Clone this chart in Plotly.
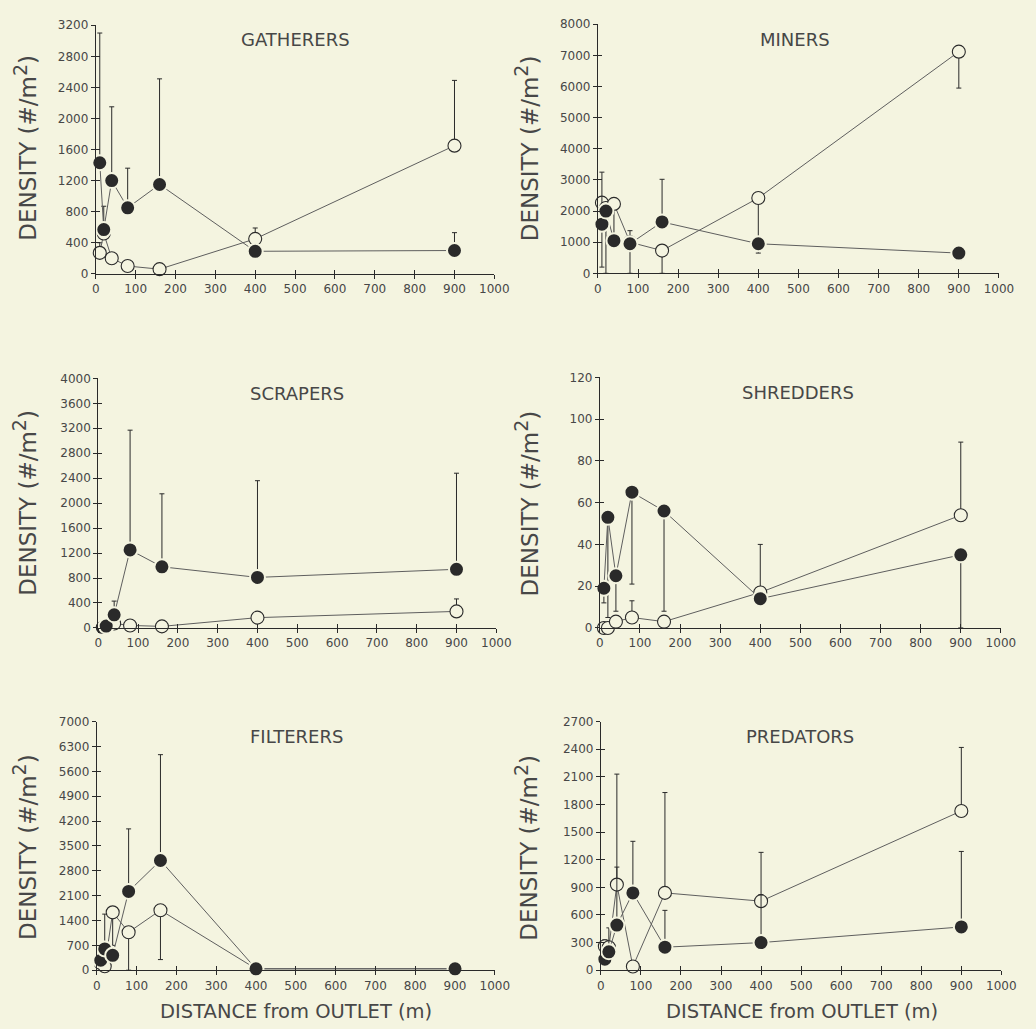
import plotly.graph_objects as go

# Sampling sites: distance downstream of the lake outlet (m)
SITES = [10, 20, 40, 80, 160, 400, 900]

# Mean densities (#/m2); filled = first survey, open = second survey.
# *_hi / *_lo give the top / bottom of each error bar (None = no bar).
gath_fill = [1430, 570, 1200, 850, 1150, 290, 300]
gath_fill_hi = [3100, 870, 2150, 1360, 2510, None, 530]
gath_fill_lo = [None, None, None, None, None, None, None]
gath_open = [270, 520, 200, 100, 60, 450, 1650]
gath_open_hi = [400, None, None, None, None, 590, 2490]
gath_open_lo = [None, None, None, None, None, None, None]

min_fill = [1580, 2000, 1050, 950, 1650, 950, 650]
min_fill_hi = [3250, None, None, None, 3020, None, None]
min_fill_lo = [200, 0, None, 0, None, 650, None]
min_open = [2270, 2100, 2230, 1000, 730, 2420, 7120]
min_open_hi = [None, None, None, 1370, None, None, None]
min_open_lo = [None, None, 1050, None, 0, 950, 5950]

scr_fill = [10, 30, 210, 1250, 980, 810, 940]
scr_fill_hi = [None, None, 430, 3170, 2150, 2360, 2480]
scr_fill_lo = [None, None, None, None, None, None, None]
scr_open = [10, 20, 70, 40, 25, 165, 265]
scr_open_hi = [None, None, None, None, None, None, 465]
scr_open_lo = [None, None, None, None, None, None, None]

shr_fill = [19, 53, 25, 65, 56, 14, 35]
shr_fill_hi = [None, None, None, None, None, None, None]
shr_fill_lo = [12, 5, 8, 21, 8, None, 0]
shr_open = [0, 0, 3, 5, 3, 17, 54]
shr_open_hi = [None, None, None, 13, None, 40, 89]
shr_open_lo = [None, None, None, None, None, None, None]

fil_fill = [280, 600, 420, 2220, 3090, 40, 40]
fil_fill_hi = [None, 1580, None, 3980, 6070, None, None]
fil_fill_lo = [None, None, None, None, None, None, None]
fil_open = [200, 110, 1630, 1070, 1690, 40, 40]
fil_open_hi = [None, None, None, None, None, None, None]
fil_open_lo = [None, None, 700, 0, 300, None, None]

pred_fill = [120, 200, 490, 840, 250, 300, 470]
pred_fill_hi = [None, 460, 1120, 1400, 650, 820, 1290]
pred_fill_lo = [None, None, None, None, None, None, None]
pred_open = [260, 250, 930, 40, 840, 750, 1730]
pred_open_hi = [330, None, 2130, None, 1930, 1280, 2420]
pred_open_lo = [None, None, None, None, None, None, None]

TITLES = ["GATHERERS", "MINERS", "SCRAPERS", "SHREDDERS", "FILTERERS", "PREDATORS"]
Y_MAX = [3200, 8000, 4000, 120, 7000, 2700]
Y_STEP = [400, 1000, 400, 20, 700, 300]
X_TICKS = [0, 100, 200, 300, 400, 500, 600, 700, 800, 900, 1000]
Y_TITLE = 'DENSITY (#/m<sup><span style="font-size:19px">2</span></sup>)'
X_TITLE = "DISTANCE from OUTLET (m)"

PANELS = [
    (gath_fill, gath_fill_hi, gath_fill_lo, gath_open, gath_open_hi, gath_open_lo),
    (min_fill, min_fill_hi, min_fill_lo, min_open, min_open_hi, min_open_lo),
    (scr_fill, scr_fill_hi, scr_fill_lo, scr_open, scr_open_hi, scr_open_lo),
    (shr_fill, shr_fill_hi, shr_fill_lo, shr_open, shr_open_hi, shr_open_lo),
    (fil_fill, fil_fill_hi, fil_fill_lo, fil_open, fil_open_hi, fil_open_lo),
    (pred_fill, pred_fill_hi, pred_fill_lo, pred_open, pred_open_hi, pred_open_lo),
]

W, H = 1036, 1029
BG = "#f4f4e0"
INK = "#2a2a2a"
LINE = "#5e5e5e"
TXT = "#474747"
FONT = "DejaVu Sans"

# Plot-area boxes in pixels: (left, right, top, bottom)
BOXES = [
    (93.5, 499.5, 18.5, 270.5),
    (605.0, 1013.5, 17.5, 270.0),
    (96.0, 501.5, 376.5, 629.5),
    (607.0, 1015.5, 375.5, 629.5),
    (94.5, 500.0, 724.5, 976.5),
    (608.0, 1016.0, 724.5, 976.5),
]
TITLE_POS = [(297, 33), (806, 33), (298, 392), (809, 391), (298, 740), (811, 740)]
YTITLE_POS = [(21, 143), (532, 143), (21, 503), (532, 503), (21, 852), (532, 852)]


def plus(vals, hi):
    return [(h - v) if h is not None else 0 for v, h in zip(vals, hi)]


def minus(vals, lo):
    return [(v - l) if l is not None else 0 for v, l in zip(vals, lo)]


fig = go.Figure()
layout = dict(
    width=W, height=H, margin=dict(l=0, r=0, t=0, b=0),
    paper_bgcolor=BG, plot_bgcolor=BG, showlegend=False,
    font=dict(family=FONT, color=TXT),
)
annotations = []

for i, (fill, fhi, flo, opn, ohi, olo) in enumerate(PANELS):
    n = i + 1
    xa, ya = f"x{n}", f"y{n}"
    left, right, top, bottom = BOXES[i]
    xdom = [left / W, right / W]
    ydom = [1 - bottom / H, 1 - top / H]
    yticks = list(range(0, Y_MAX[i] + 1, Y_STEP[i]))

    err_style = dict(type="data", symmetric=False, color=INK, thickness=1, width=2.5)

    fig.add_trace(go.Scatter(
        x=SITES, y=opn, xaxis=xa, yaxis=ya, mode="lines+markers",
        line=dict(color=LINE, width=1),
        marker=dict(symbol="circle", size=13, color=BG, line=dict(color=INK, width=1.1)),
        error_y=dict(array=plus(opn, ohi), arrayminus=minus(opn, olo), **err_style),
        cliponaxis=False, hoverinfo="skip",
    ))
    fig.add_trace(go.Scatter(
        x=SITES, y=fill, xaxis=xa, yaxis=ya, mode="lines+markers",
        line=dict(color=LINE, width=1),
        marker=dict(symbol="circle", size=15, color=INK, line=dict(color=BG, width=2)),
        error_y=dict(array=plus(fill, fhi), arrayminus=minus(fill, flo), **err_style),
        cliponaxis=False, hoverinfo="skip",
    ))

    axis_common = dict(showgrid=False, zeroline=False, ticklen=4, tickwidth=1, tickcolor=INK)
    layout[f"xaxis{n}"] = dict(
        domain=xdom, anchor=ya, range=[0, 1000], tickmode="array", tickvals=X_TICKS,
        showline=True, linecolor=INK, linewidth=1, ticks="outside",
        tickfont=dict(family=FONT, size=12, color=TXT), **axis_common)
    layout[f"yaxis{n}"] = dict(
        domain=ydom, anchor=xa, range=[0, Y_MAX[i]], tickmode="array", tickvals=yticks,
        showline=True, linecolor=INK, linewidth=1, ticks="outside",
        tickfont=dict(family=FONT, size=12, color=TXT), **axis_common)

    # twin axes carrying inward ticks so the tick marks cross the axis lines
    m = n + 6
    layout[f"xaxis{m}"] = dict(
        overlaying=xa, anchor=ya, range=[0, 1000], tickmode="array", tickvals=X_TICKS,
        ticks="inside", showticklabels=False, showline=False, **axis_common)
    layout[f"yaxis{m}"] = dict(
        overlaying=ya, anchor=xa, range=[0, Y_MAX[i]], tickmode="array", tickvals=yticks,
        ticks="inside", showticklabels=False, showline=False, **axis_common)
    fig.add_trace(go.Scatter(x=[], y=[], xaxis=f"x{m}", yaxis=f"y{m}",
                             mode="markers", hoverinfo="skip"))

    tx, ty = TITLE_POS[i]
    annotations.append(dict(
        text=TITLES[i], x=tx / W, y=1 - ty / H, xref="paper", yref="paper",
        xanchor="center", yanchor="middle", showarrow=False,
        font=dict(family=FONT, size=18, color=TXT)))
    yx, yy = YTITLE_POS[i]
    annotations.append(dict(
        text=Y_TITLE, x=yx / W, y=1 - yy / H, xref="paper", yref="paper",
        xanchor="center", yanchor="middle", textangle=-90, showarrow=False,
        font=dict(family=FONT, size=23, color=TXT)))

for cx in (297.5, 813):
    annotations.append(dict(
        text=X_TITLE, x=cx / W, y=1 - 1018 / H, xref="paper", yref="paper",
        xanchor="center", yanchor="middle", showarrow=False,
        font=dict(family=FONT, size=19.5, color=TXT)))

layout["annotations"] = annotations
fig.update_layout(**layout)
fig.write_html("out.html")
